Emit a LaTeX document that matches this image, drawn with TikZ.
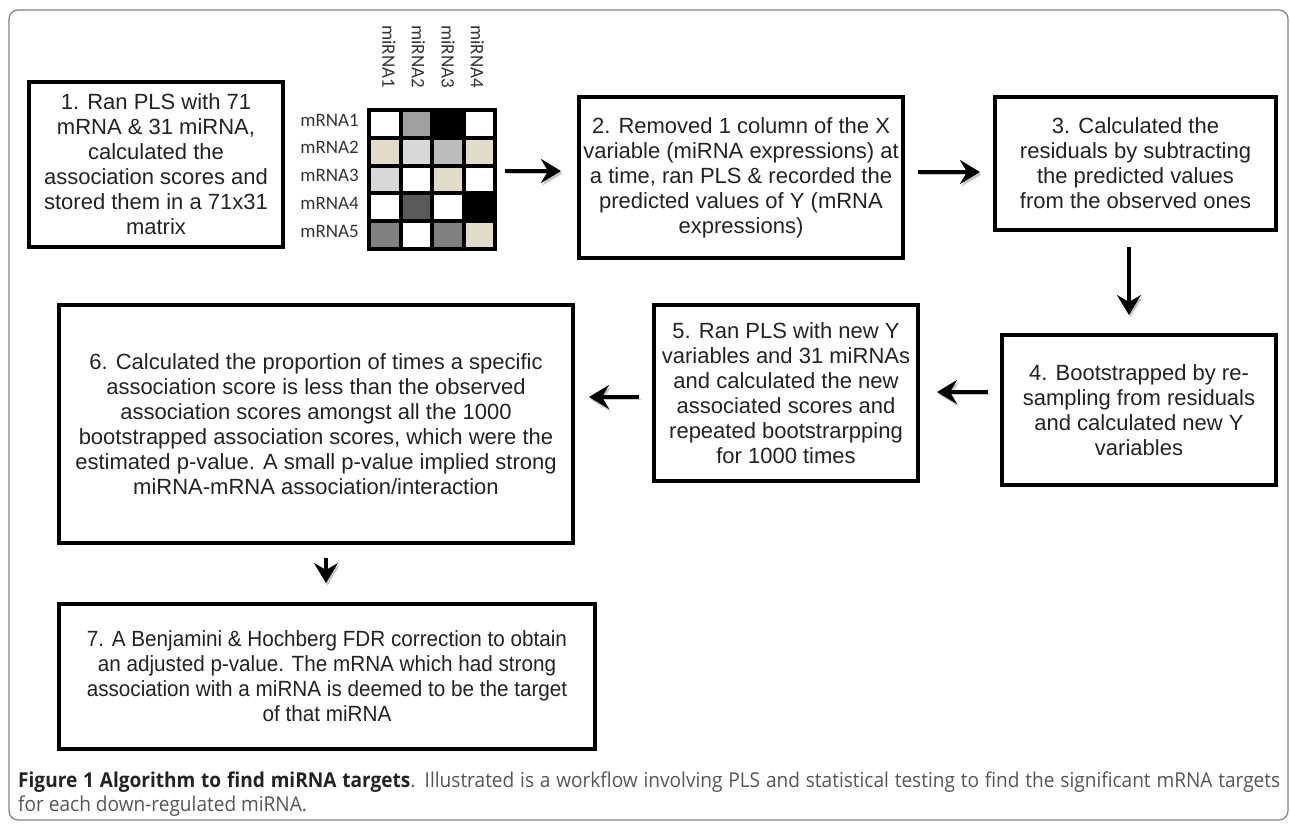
\documentclass[tikz,border=0pt]{standalone}
\usepackage{fontspec}
\setmainfont{Liberation Sans}
\newfontfamily\narrowfont[FakeStretch=0.94]{Liberation Sans}
\newfontfamily\labelfont{Carlito}
\newfontfamily\capfont[FakeStretch=0.93]{Open Sans}
\usetikzlibrary{arrows.meta}
\definecolor{beige}{HTML}{E0DCC8}
\definecolor{palegray}{HTML}{D8D8D8}
\definecolor{silvergray}{HTML}{BBBBBB}
\definecolor{midgray}{HTML}{A0A0A0}
\definecolor{stonegray}{HTML}{808080}
\definecolor{celldark}{HTML}{5A5A5A}
\definecolor{textgray}{HTML}{222222}
\definecolor{labgray}{HTML}{333333}
\definecolor{capgray}{HTML}{555555}

\begin{document}
\begin{tikzpicture}[x=1pt,y=-1pt,
    stepbox/.style={draw,line width=4pt,align=center,inner sep=0pt,text=textgray,
      font=\fontsize{22}{25}\selectfont},
    flowarrow/.style={line width=4.5pt,-{Stealth[length=20pt,width=24pt,inset=7pt]},
      preaction={draw=black!22,transform canvas={xshift=1.5pt,yshift=-2.5pt}}},
    rowlabel/.style={anchor=east,inner sep=0pt,text=labgray,font=\labelfont\fontsize{19}{19}\selectfont},
    collabel/.style={anchor=west,rotate=-90,inner sep=0pt,text=labgray,font=\labelfont\fontsize{19}{19}\selectfont}]
  \useasboundingbox (0,0) rectangle (1290,823);
  \draw[gray,line width=1.2pt,rounded corners=9pt] (9,10) rectangle (1288,820);

  % boxes of the workflow
  \node[stepbox,minimum width=254pt,minimum height=165pt] (b1) at (156,164.5)
    {1. Ran PLS with 71\\mRNA \& 31 miRNA,\\calculated the\\association scores and\\stored them in a 71x31\\matrix};
  \node[stepbox,minimum width=324pt,minimum height=161pt] (b2) at (741,177.5)
    {2. Removed 1 column of the X\\variable (miRNA expressions) at\\a time, ran PLS \& recorded the\\predicted values of Y (mRNA\\expressions)};
  \node[stepbox,minimum width=281pt,minimum height=133pt] (b3) at (1135.5,163.5)
    {3. Calculated the\\residuals by subtracting\\the predicted values\\from the observed ones};
  \node[stepbox,minimum width=274pt,minimum height=150pt] (b4) at (1139,410)
    {4. Bootstrapped by re-\\sampling from residuals\\and calculated new Y\\variables};
  \node[stepbox,minimum width=264pt,minimum height=176pt] (b5) at (786,393)
    {5. Ran PLS with new Y\\variables and 31 miRNAs\\and calculated the new\\associated scores and\\repeated bootstrarpping\\for 1000 times};
  \node[stepbox,minimum width=514pt,minimum height=238pt] (b6) at (316,424)
    {6. Calculated the proportion of times a specific\\association score is less than the observed\\association scores amongst all the 1000\\bootstrapped association scores, which were the\\estimated p-value. A small p-value implied strong\\miRNA-mRNA association/interaction};
  \node[stepbox,minimum width=536pt,minimum height=145pt,font=\narrowfont\fontsize{22}{25}\selectfont] (b7) at (327,676.5)
    {7. A Benjamini \& Hochberg FDR correction to obtain\\an adjusted p-value. The mRNA which had strong\\association with a miRNA is deemed to be the target\\of that miRNA};

  % score matrix
  \foreach \row [count=\r from 0] in {{white,midgray,black,white},{beige,palegray,silvergray,beige},
      {palegray,white,beige,white},{white,celldark,white,black},{stonegray,white,stonegray,beige}}
    \foreach \c [count=\k from 0] in \row
      \fill[\c] ({369+31.5*\k},{110+27.8*\r}) rectangle ++(31.5,27.8);
  \foreach \k in {1,2,3}
    \draw[line width=4pt] ({369+31.5*\k},110) -- ({369+31.5*\k},249);
  \foreach \r in {1,...,4}
    \draw[line width=4pt] (369,{110+27.8*\r}) -- (495,{110+27.8*\r});
  \draw[line width=4pt] (369,110) rectangle (495,249);
  \foreach \r in {1,...,5}
    \node[rowlabel] (mrna\r) at (359,{120+27.8*(\r-1)}) {mRNA\r};
  \foreach \k in {1,...,4}
    \node[collabel] (mirna\k) at ({389+29.5*(\k-1)},25) {miRNA\k};
  \coordinate (matE) at (497,171);

  % arrows
  \draw[flowarrow,shorten <=8pt,shorten >=16pt] (matE) -- (b2.west |- matE);
  \draw[flowarrow,shorten <=13pt,shorten >=13pt] (b2.east |- 0,172) -- (b3.west |- 0,172);
  \draw[flowarrow,shorten <=15pt,shorten >=18pt] (b3.south -| 1129,0) -- (b4.north -| 1129,0);
  \draw[flowarrow,shorten <=12pt,shorten >=17pt] (b4.west |- 0,392) -- (b5.east |- 0,392);
  \draw[flowarrow,shorten <=13pt,shorten >=14pt] (b5.west |- 0,397) -- (b6.east |- 0,397);
  \draw[flowarrow,shorten <=13pt,shorten >=19pt] (b6.south -| 326,0) -- (b7.north -| 326,0);

  % caption
  \node[anchor=north west,text width=1262pt,align=justify,inner sep=0pt,text=capgray,
    font=\capfont\fontsize{20.5}{24}\selectfont] (cap) at (18,772)
    {\textbf{\color{textgray}Figure 1 Algorithm to find miRNA targets}. Illustrated is a workflow involving PLS and statistical testing to find the significant mRNA targets\linebreak for each down-regulated miRNA.};
\end{tikzpicture}
\end{document}
